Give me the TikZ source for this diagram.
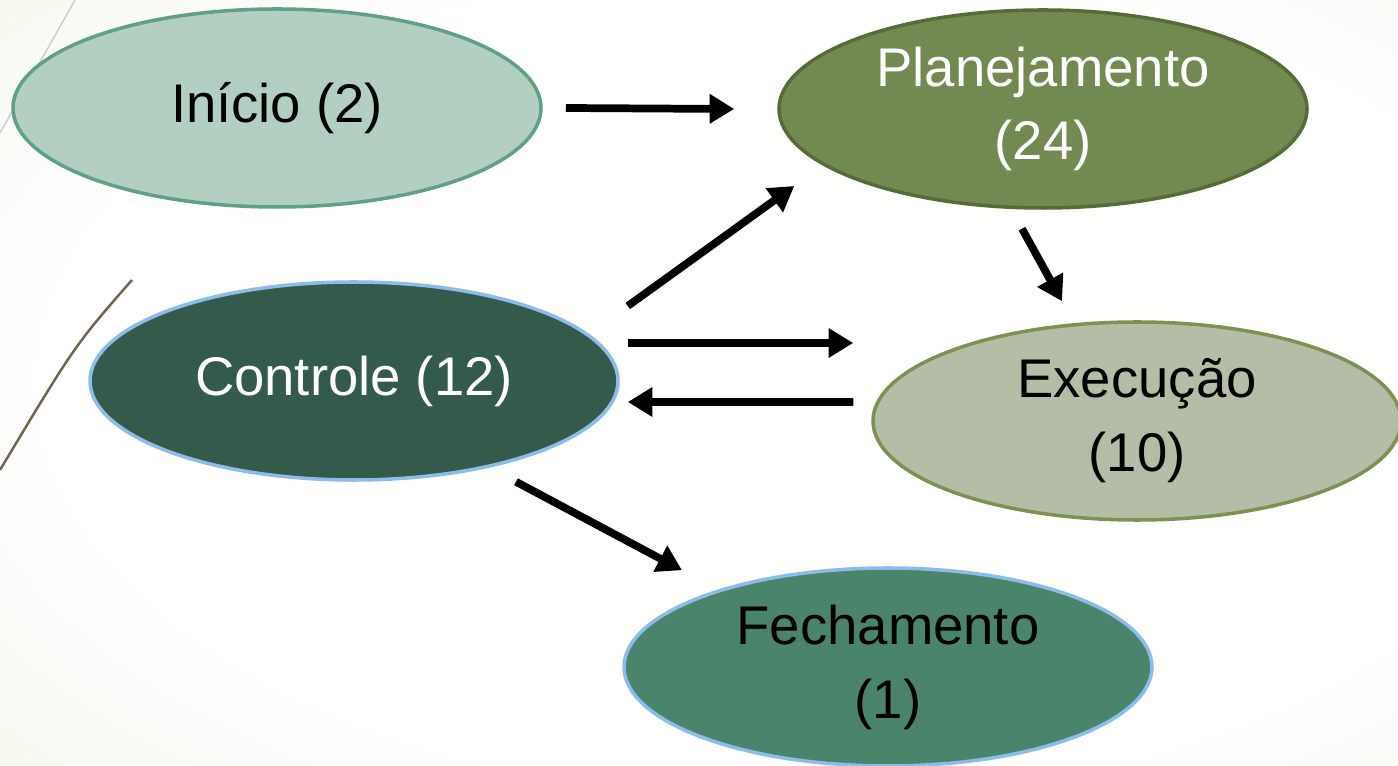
\documentclass[tikz,border=0pt]{standalone}
\usepackage{fontspec}
\setmainfont{Liberation Sans}
\usetikzlibrary{shapes.geometric,arrows.meta}

\definecolor{bggreen}{HTML}{E8EED7}
\definecolor{iniciofill}{HTML}{B3CFC2}
\definecolor{iniciodraw}{HTML}{5FA086}
\definecolor{planfill}{HTML}{728A52}
\definecolor{plandraw}{HTML}{566B38}
\definecolor{ctrlfill}{HTML}{335A4A}
\definecolor{lightblue}{HTML}{8DBBEA}
\definecolor{execfill}{HTML}{B4BDA6}
\definecolor{execdraw}{HTML}{7E9152}
\definecolor{fechfill}{HTML}{4A856B}
\definecolor{curvebrown}{HTML}{6E6450}

\pgfdeclareradialshading{glow}{\pgfpoint{5bp}{0bp}}{color(0bp)=(white); color(28bp)=(white!97!bggreen); color(55bp)=(bggreen); color(100bp)=(bggreen)}

\begin{document}
\begin{tikzpicture}[
        phase_style/.style={ellipse, line width=1pt, inner sep=0pt,
            minimum width=5.28cm, minimum height=1.98cm, align=center,
            font=\fontsize{15.5}{21}\selectfont},
        arrow_style/.style={line width=2.2pt, -{Triangle[length=7pt,width=8pt]}}
    ]
        % Background
        \useasboundingbox (0,0) rectangle (13.98,7.65);
        \shade[shading=glow] (0,0) rectangle (13.98,7.65);
        \draw[black!20, line width=0.4pt] (0.75,7.65) -- (0,6.32);
        \draw[curvebrown, line width=0.7pt] (1.32,4.85) .. controls (0.75,4.2) .. (0,2.95);

        % Phases
        \node[phase_style, fill=iniciofill, draw=iniciodraw] (inicio) at (2.77,6.57) {Início (2)};
        \node[phase_style, fill=planfill, draw=plandraw, text=white] (plan) at (10.43,6.56) {Planejamento\\(24)};
        \node[phase_style, fill=ctrlfill, draw=lightblue, text=white] (ctrl) at (3.54,3.84) {Controle (12)};
        \node[phase_style, fill=execfill, draw=execdraw] (exec) at (11.37,3.44) {Execução\\(10)};
        \node[phase_style, fill=fechfill, draw=lightblue] (fech) at (8.88,0.98) {Fechamento\\(1)};

        % Arrows
        \draw[arrow_style] ([xshift=0.23cm]inicio.east) -- ([xshift=-0.43cm]plan.west);
        \draw[arrow_style] ([xshift=0.08cm,yshift=0.75cm]ctrl.east) -- ([xshift=0.17cm,yshift=-0.77cm]plan.west);
        \draw[arrow_style] ([xshift=-0.21cm,yshift=-0.19cm]plan.south) -- ([xshift=-0.75cm,yshift=0.19cm]exec.north);
        \draw[arrow_style] ([xshift=0.08cm,yshift=0.38cm]ctrl.east) -- ([xshift=-0.18cm,yshift=0.78cm]exec.west);
        \draw[arrow_style] ([xshift=-0.18cm,yshift=0.19cm]exec.west) -- ([xshift=0.08cm,yshift=-0.21cm]ctrl.east);
        \draw[arrow_style] ([xshift=1.62cm]ctrl.south) -- ([xshift=-2.06cm,yshift=-0.04cm]fech.north);
    \end{tikzpicture}
\end{document}
